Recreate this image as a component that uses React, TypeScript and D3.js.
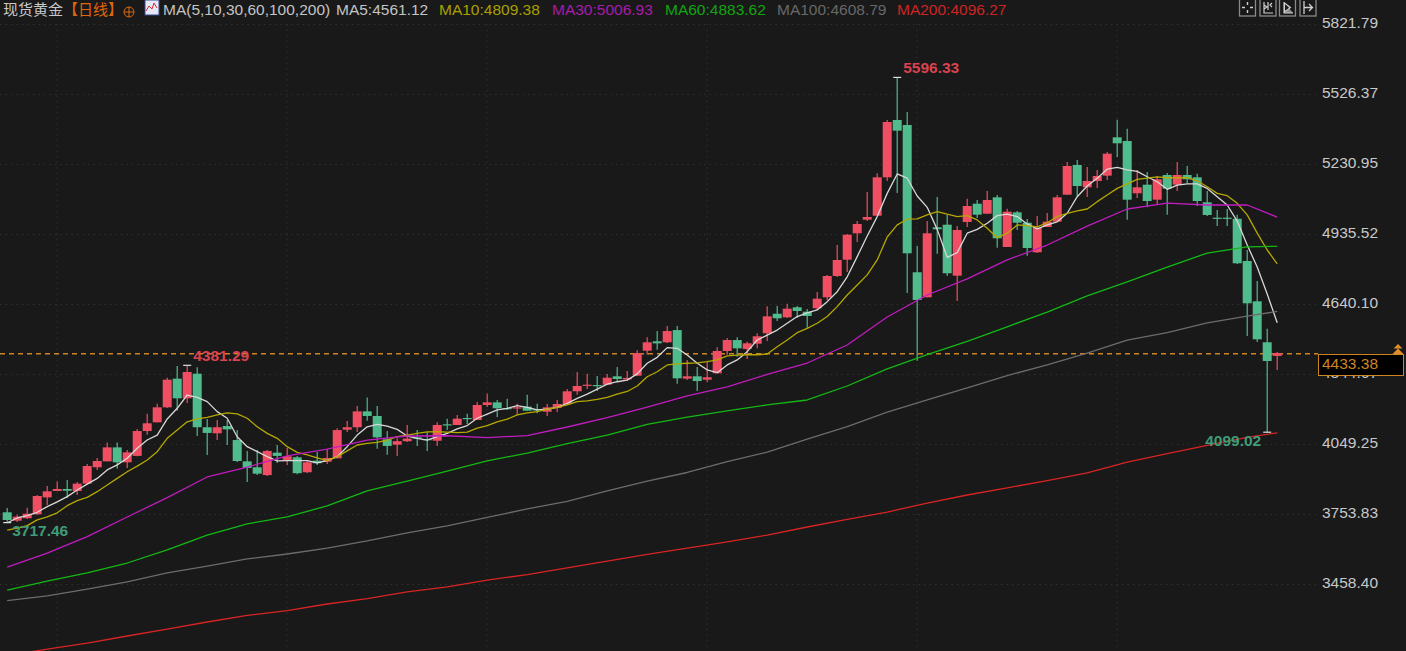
// App.tsx - daily gold candlestick chart with moving averages
import * as d3 from "d3"

const opens = [
  3761, 3725.6, 3736, 3752.6, 3824, 3851, 3859.5, 3851, 3882, 3951,
  3976, 4035, 3972, 3999, 4104, 4140.8, 4204, 4325, 4242, 4346,
  4120, 4094.4, 4125, 4066, 3976, 3951, 3918, 4012.6, 3982, 3993,
  3930, 3979, 3974.5, 3989, 4109.6, 4120, 4187, 4167.5, 4069, 4046.3,
  4061, 4077.5, 4070, 4063, 4132.4, 4129.5, 4159, 4150.6, 4213.9, 4225,
  4201, 4200, 4206.7, 4195.7, 4185.6, 4201, 4218, 4271.7, 4295.4, 4298,
  4299.5, 4335, 4322, 4337.6, 4443, 4482.7, 4478.5, 4530, 4325, 4335,
  4320.6, 4347.6, 4441.8, 4488, 4450, 4472.6, 4516.4, 4599, 4583.9, 4626.2,
  4607.7, 4622, 4668.4, 4758.3, 4827, 4938.5, 4996, 5012.8, 5174.8, 5416.7,
  5395.6, 4774, 4668.4, 4963.8, 4974.8, 4759.6, 4986.2, 5063.4, 5021.2, 5090.4,
  4880.7, 5027, 4983.2, 4858.3, 4965, 4987.5, 5101.4, 5226.8, 5132.6, 5159.2,
  5181.6, 5343.6, 5328, 5107.3, 5143.6, 5080.3, 5184.5, 5143.6, 5184.5, 5174.8,
  5069.3, 5004.3, 5004.3, 4999.8, 4821.6, 4651.5, 4478.5, 4421,
]
const closes = [
  3728.5, 3742.6, 3755, 3829.8, 3849.6, 3859.5, 3852, 3882, 3956.4, 3977.5,
  4035, 3972, 4014, 4104, 4136.6, 4204, 4320.6, 4242, 4353, 4120,
  4096, 4120, 4111, 3977.5, 3948, 3924, 4020, 3999, 3997.5, 3926,
  3972, 3968, 3990, 4108, 4120, 4187, 4167.5, 4077.5, 4041, 4061,
  4072, 4072, 4065, 4129.5, 4128, 4156, 4155, 4213.9, 4225, 4200,
  4198, 4204, 4189.8, 4192.8, 4204, 4218, 4271.7, 4294, 4299.5, 4294,
  4329, 4323.6, 4328, 4433, 4478.5, 4474, 4526, 4326.5, 4335, 4315,
  4330.8, 4441.8, 4488, 4453, 4474.3, 4503.8, 4588, 4579.8, 4620.3, 4610.6,
  4589.5, 4662.5, 4758.3, 4825.8, 4932.6, 4977.8, 5007.3, 5174.8, 5408.2, 5371.5,
  4854, 4657, 4938.5, 4955.4, 4769.7, 4952.4, 5053.7, 5017, 5079, 4917.4,
  5029.7, 4983.2, 4876.5, 4962, 4987.5, 5090.4, 5222.5, 5138, 5159.2, 5180.3,
  5274.4, 5318.3, 5080.3, 5132.6, 5074.8, 5166.4, 5126.7, 5184.5, 5166.4, 5074.8,
  5015.7, 5001.8, 5001.8, 4811.9, 4643, 4491, 4399.6, 4433.38,
]
const highs = [
  3779, 3751, 3780.5, 3834, 3872, 3891, 3897, 3889, 3965, 3990,
  4055.6, 4055.6, 4024, 4112.6, 4177, 4219, 4329, 4378.4, 4381.29, 4373,
  4155, 4150.6, 4150.6, 4108, 4020, 4024, 4024, 4045, 4032, 3999,
  3977.5, 4016, 4028, 4115.5, 4146.4, 4209.7, 4246, 4209.7, 4104, 4074,
  4129.5, 4108, 4100, 4140.8, 4156, 4171.7, 4177, 4226.5, 4261.6, 4235,
  4240.5, 4219.4, 4257.4, 4219.4, 4218, 4235, 4281.4, 4353, 4346, 4336,
  4344.7, 4374, 4357.3, 4444.7, 4499.6, 4526, 4547, 4547, 4403.8, 4374,
  4396.6, 4457.5, 4496.6, 4499.6, 4481, 4516.4, 4630.4, 4631.6, 4641.4, 4631.6,
  4619, 4690.8, 4762.5, 4889, 4935.5, 4990, 5112.8, 5191.7, 5416.7, 5596.33,
  5450.4, 4884.9, 4990.4, 5091.7, 5015.7, 4969.3, 5084.5, 5079, 5117, 5100,
  5042.3, 5032.6, 4998.8, 5011.5, 5024.2, 5100, 5239.4, 5247.8, 5218.3, 5205.6,
  5281.6, 5417.9, 5379.9, 5205.6, 5197.2, 5180.3, 5193, 5239.4, 5222.5, 5190,
  5117, 5036.8, 5041, 5017, 4868, 4737.2, 4535.9, 4438,
]
const lows = [
  3717.46, 3720, 3732.7, 3749.6, 3792, 3851, 3821, 3834, 3880, 3939.5,
  3976, 3945, 3948, 3998, 4088.5, 4140.8, 4201, 4190, 4222, 4083,
  4003, 4066, 4045, 3973, 3889, 3918, 3914, 3969, 3961, 3922,
  3927, 3961, 3965, 3989, 4100, 4100, 4147.6, 4029, 4004, 3999,
  4058, 4041, 4020, 4041, 4108, 4129.5, 4133.7, 4150.6, 4205, 4163,
  4192.8, 4173, 4188.5, 4179, 4167.5, 4184, 4213.9, 4257.4, 4281.4, 4273,
  4298, 4311, 4319, 4336, 4426, 4447, 4475.5, 4303.8, 4319, 4273,
  4311, 4347.6, 4426, 4417.7, 4408, 4453, 4484, 4568.3, 4581, 4581,
  4540, 4614.8, 4657, 4754, 4775, 4901.8, 4990.4, 5012.8, 5159, 5108.6,
  4686.5, 4400.8, 4668.4, 4852.4, 4758.3, 4652.8, 4965.1, 5003, 5021.2, 4877.8,
  4880.7, 4952.4, 4844, 4855.4, 4965, 4986.2, 5100, 5095.9, 5091.7, 5129.7,
  5163.4, 5260.5, 4996, 5087.5, 5048.2, 5062, 5017, 5117, 5150.8, 5053.7,
  5011.5, 4969.3, 4969.3, 4809, 4505, 4479.8, 4099.02, 4361.6,
]

const ma5 = [
  3717, 3737, 3747, 3761, 3785, 3805, 3827, 3855, 3880, 3904,
  3940, 3961, 3989, 4031, 4066, 4087, 4155, 4200, 4256, 4246,
  4228, 4186, 4158, 4080, 4038, 4017, 3996, 3978, 3979, 3979,
  3979, 3970, 3979, 3996, 4038, 4087, 4122, 4132, 4125, 4111,
  4083, 4073, 4066, 4080, 4094, 4113, 4127, 4158, 4175, 4193,
  4200, 4211, 4204, 4193, 4196, 4204, 4221, 4242, 4260, 4281,
  4302, 4312, 4319, 4345, 4390, 4415, 4456, 4453, 4425, 4390,
  4362, 4350, 4383, 4404, 4439, 4488, 4509, 4530, 4559, 4587,
  4603, 4615, 4650, 4692, 4755, 4840, 4927, 5009, 5107, 5189,
  5171, 5096, 5048, 4955, 4837, 4857, 4939, 4955, 4981, 5013,
  5019, 5009, 4978, 4957, 4974, 4987, 5023, 5093, 5138, 5171,
  5209, 5217, 5206, 5200, 5177, 5156, 5124, 5142, 5147, 5147,
  5128, 5093, 5058, 4990, 4889, 4796, 4682, 4561.12,
]
const ma10 = [
  3686, 3694, 3705, 3729, 3742, 3759, 3789, 3810, 3824, 3848,
  3876, 3904, 3932, 3956, 3982, 4017, 4073, 4108, 4143, 4155,
  4162, 4172, 4181, 4176, 4158, 4122, 4094, 4073, 4038, 4014,
  4003, 3991, 3979, 3996, 4020, 4045, 4052, 4056, 4066, 4080,
  4087, 4094, 4100, 4101, 4099, 4097, 4099, 4116, 4127, 4143,
  4154, 4172, 4181, 4186, 4196, 4204, 4214, 4228, 4231, 4238,
  4246, 4260, 4271, 4294, 4333, 4354, 4383, 4387, 4390, 4392,
  4397, 4404, 4421, 4424, 4426, 4426, 4429, 4460, 4488, 4519,
  4537, 4559, 4587, 4629, 4678, 4720, 4763, 4826, 4923, 4974,
  4998, 4999, 5016, 5030, 5019, 5009, 5013, 4995, 4960, 4920,
  4939, 4974, 4971, 4966, 4983, 5009, 5023, 5033, 5041, 5072,
  5100, 5128, 5147, 5166, 5171, 5177, 5173, 5173, 5173, 5160,
  5135, 5107, 5097, 5065, 5016, 4939, 4868, 4809.38,
]

// the slow averages are read at every fourth candle
const slowIndex = [
  0, 4, 8, 12, 16, 20, 24, 28, 32, 36, 40, 44, 48, 52, 56, 60, 64,
  68, 72, 76, 80, 84, 88, 92, 96, 100, 104, 108, 112, 116, 120, 124, 127,
]
const ma30 = [
  3530, 3589, 3658, 3741, 3823, 3910, 3952, 3999, 4028, 4066, 4083, 4084, 4076, 4085, 4121, 4161, 4205,
  4252, 4290, 4343, 4391, 4467, 4585, 4678, 4746, 4826, 4889, 4969, 5041, 5066, 5058, 5058, 5006.93,
]
const ma60 = [
  3433, 3471, 3505, 3547, 3602, 3665, 3712, 3742, 3788, 3851, 3893, 3935, 3978, 4011, 4051, 4087, 4132,
  4163, 4189, 4214, 4235, 4294, 4366, 4426, 4482, 4544, 4606, 4674, 4733, 4796, 4855, 4881, 4883.62,
]
const ma100 = [
  3388, 3408, 3437, 3467, 3505, 3534, 3564, 3585, 3610, 3640, 3674, 3704, 3740, 3775, 3807, 3851, 3893,
  3929, 3975, 4015, 4070, 4123, 4184, 4235, 4286, 4338, 4383, 4433, 4488, 4519, 4560, 4589, 4608.79,
]
const ma200 = [
  3155, 3184, 3209, 3239, 3268, 3298, 3326, 3346, 3374, 3397, 3425, 3446, 3475, 3498, 3526, 3555, 3583,
  3610, 3636, 3665, 3699, 3731, 3762, 3800, 3834, 3864, 3895, 3927, 3973, 4009, 4043, 4077, 4096.27,
]

const priceTicks = ["5821.79", "5526.37", "5230.95", "4935.52", "4640.10", "4344.67", "4049.25", "3753.83", "3458.40"]
const gridIndex = [5, 28, 48, 70, 91, 111]
const lastPrice = 4433.38

const BG = "#191919"
const UP = "#f04f63"
const DOWN = "#50bb8c"
const ORANGE = "#cf8424"
const NUM_FONT = "'Liberation Sans', Arial, sans-serif"
const CJK_FONT = "'Noto Sans CJK SC', sans-serif"

const MA_COLORS = ["#d8d8d8", "#b5a800", "#c01cc0", "#14b814", "#6c6c6c", "#d82424"]

const legend = [
  { label: "MA(5,10,30,60,100,200)", x: 163, color: "#c4c4c4" },
  { label: "MA5:4561.12", x: 336, color: "#c4c4c4" },
  { label: "MA10:4809.38", x: 439, color: "#a8a000" },
  { label: "MA30:5006.93", x: 552, color: "#a81ca8" },
  { label: "MA60:4883.62", x: 665, color: "#10a510" },
  { label: "MA100:4608.79", x: 777, color: "#686868" },
  { label: "MA200:4096.27", x: 897, color: "#cc2424" },
]

const extremes = [
  { i: 18, price: 4381.29, dx: 6, dy: -8, color: "#d8434f" },
  { i: 89, price: 5596.33, dx: 6, dy: -9, color: "#d8434f" },
  { i: 0, price: 3717.46, dx: 5, dy: 9, color: "#3f9c78" },
  { i: 126, price: 4099.02, dx: -62, dy: 10, color: "#3f9c78" },
]

const x = d3.scaleLinear().domain([0, 127]).range([7.2, 1277.2])
const y = d3.scaleLinear().domain([3458.4, 5821.79]).range([584, 24])

export default function App() {
  const fullLine = d3.line<number>().x((_, i) => x(i)).y((d) => y(d))
  const slowLine = d3.line<number>().x((_, i) => x(slowIndex[i])).y((d) => y(d))
  const paths = [fullLine(ma5), fullLine(ma10), slowLine(ma30), slowLine(ma60), slowLine(ma100), slowLine(ma200)]

  return (
    <div style={{ position: "fixed", left: 0, top: 0 }}>
      <svg width={1406} height={651} style={{ display: "block", background: BG }}>
        {/* grid */}
        {priceTicks.map((t) => (
          <line key={t} x1={0} x2={1317} y1={y(+t) + 0.5} y2={y(+t) + 0.5} stroke="#303030" strokeDasharray="1.5 4" />
        ))}
        {gridIndex.map((i) => (
          <line key={i} x1={Math.round(x(i))} x2={Math.round(x(i))} y1={24} y2={651} stroke="#303030" strokeDasharray="1.5 4" />
        ))}

        {/* last price line */}
        <line x1={0} x2={1318} y1={y(lastPrice) + 0.7} y2={y(lastPrice) + 0.7} stroke={ORANGE} strokeWidth={1.4} strokeDasharray="5 4" />

        {/* candles */}
        {opens.map((o, i) => {
          const c = closes[i]
          const color = c >= o ? UP : DOWN
          const top = y(Math.max(o, c))
          const bottom = y(Math.min(o, c))
          return (
            <g key={i}>
              <line x1={x(i)} x2={x(i)} y1={y(highs[i])} y2={y(lows[i])} stroke={color} strokeWidth={1.2} />
              <rect x={x(i) - 4.5} y={top} width={9} height={Math.max(bottom - top, 1.2)} fill={color} />
            </g>
          )
        })}

        {/* moving averages */}
        {paths.map((d, i) => (
          <path key={i} d={d ?? ""} fill="none" stroke={MA_COLORS[i]} strokeWidth={1.3} strokeLinejoin="round" />
        ))}

        {/* high / low marks */}
        {extremes.map((e) => (
          <g key={e.i}>
            <line x1={x(e.i) - 4} x2={x(e.i) + 4} y1={y(e.price)} y2={y(e.price)} stroke="#e0e0e0" strokeWidth={1.2} />
            <text x={x(e.i) + e.dx} y={y(e.price) + e.dy} dominantBaseline="middle" fontFamily={NUM_FONT} fontSize={15.5} fontWeight={700} fill={e.color}>
              {e.price.toFixed(2)}
            </text>
          </g>
        ))}

        {/* price axis */}
        {priceTicks.map((t) => (
          <text key={t} x={1322} y={y(+t) - 0.5} dominantBaseline="middle" fontFamily={NUM_FONT} fontSize={15.5} fill="#c8c8c8">
            {t}
          </text>
        ))}
        <rect x={1318.5} y={354.5} width={85} height={21} fill="#000" stroke={ORANGE} />
        <text x={1322} y={365} dominantBaseline="middle" fontFamily={NUM_FONT} fontSize={15.5} fill={ORANGE}>
          {lastPrice.toFixed(2)}
        </text>
        <path d="M1398 344l4.5 4.5h-9zM1398 348.5l5.5 5.5h-11z" fill="#e08f28" />

        {/* header */}
        <text x={3} y={15} fontFamily={CJK_FONT} fontSize={15} fill="#c8c8c8">现货黄金</text>
        <text x={63} y={15} fontFamily={CJK_FONT} fontSize={15} fill="#e0660f">【日线】</text>
        <g fill="none" stroke="#d96a16">
          <circle cx={129} cy={12} r={5} />
          <path d="M124 12h10M129 7v10" />
        </g>
        <rect x={145} y={0} width={14} height={15} fill="#e6e9f5" stroke="#3a4a90" />
        <path d="M146 11l3-5 3 3 2-6 3 5" fill="none" stroke="#d42a2a" />
        {legend.map((l) => (
          <text key={l.label} x={l.x} y={15} fontFamily={NUM_FONT} fontSize={15.5} fill={l.color}>
            {l.label}
          </text>
        ))}

        {/* toolbar */}
        {[1239.5, 1260, 1279.5, 1300].map((bx) => (
          <rect key={bx} x={bx} y={-1} width={16} height={17} fill="none" stroke="#8a8a8a" strokeWidth={1.3} />
        ))}
        <path d="M1247.5 2v3M1247.5 10v3M1242 7.5h3M1250 7.5h3" stroke="#d0d0d0" strokeWidth={1.4} />
        <path d="M1264 2v11h9M1268 2v8M1264 5l3 2-3 2M1272 3l-2 2 2 2" fill="none" stroke="#d0d0d0" strokeWidth={1.2} />
        <path d="M1284 2v11h9M1284.5 3l6 4.5-6 4.5z" fill="#8a8a8a" stroke="#d0d0d0" strokeWidth={1.1} />
        <path d="M1304 1v13M1304 7.5h8M1309 4l3.5 3.5-3.5 3.5" fill="none" stroke="#d0d0d0" strokeWidth={1.3} />
      </svg>
    </div>
  )
}
